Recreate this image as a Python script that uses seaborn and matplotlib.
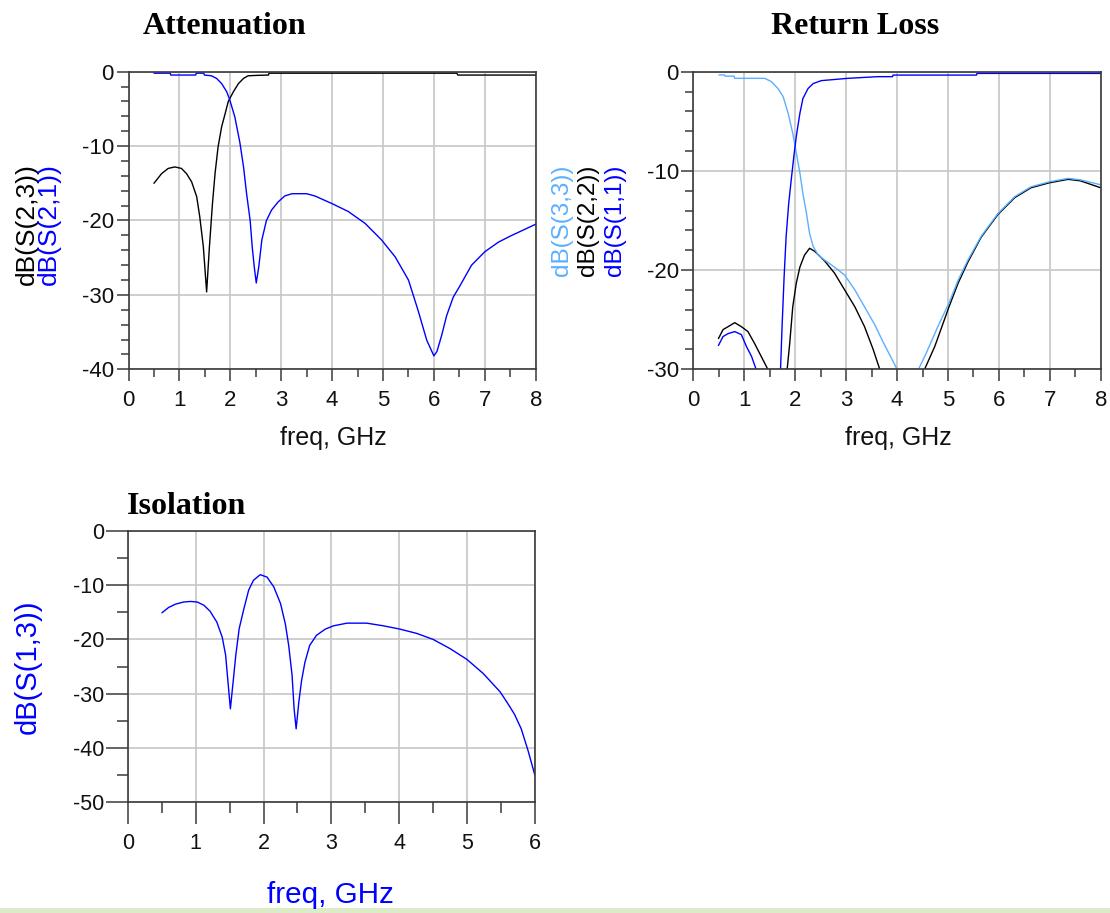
import matplotlib
matplotlib.use("Agg")
import matplotlib.pyplot as plt
import seaborn as sns
from matplotlib.ticker import MultipleLocator
from matplotlib.patches import Rectangle

# ---------------- data ----------------
# Attenuation
att_f_s23 = [0.50, 0.65, 0.78, 0.91, 1.04, 1.14, 1.24, 1.34, 1.40, 1.47, 1.535, 1.59, 1.65, 1.70,
             1.76, 1.83, 1.90, 1.96, 2.06, 2.16, 2.26, 2.35, 2.50, 2.75, 2.76, 6.45, 6.47, 8.0]
att_s23 = [-15.0, -13.7, -13.0, -12.8, -13.0, -13.7, -14.8, -16.8, -19.5, -23.5, -29.6, -23.5, -17.7, -13.7,
           -10.1, -7.4, -5.6, -4.0, -2.7, -1.6, -0.9, -0.55, -0.5, -0.45, -0.2, -0.2, -0.45, -0.45]

att_f_s21 = [0.50, 0.82, 0.83, 1.32, 1.33, 1.48, 1.49, 1.63, 1.73, 1.83, 1.93, 1.99, 2.09, 2.19, 2.26,
             2.32, 2.39, 2.43, 2.47, 2.51, 2.56, 2.62, 2.71, 2.81, 2.94, 3.07, 3.21, 3.50, 3.66, 3.99,
             4.32, 4.65, 4.97, 5.24, 5.50, 5.69, 5.86, 6.00, 6.06, 6.15, 6.25, 6.38, 6.51, 6.74, 7.00,
             7.27, 7.50, 7.75, 8.0]
att_s21 = [-0.2, -0.2, -0.45, -0.45, -0.2, -0.2, -0.45, -0.55, -0.9, -1.6, -2.7, -3.8, -6.1, -9.6, -12.8,
           -16.4, -20.0, -23.5, -26.2, -28.4, -26.2, -22.6, -20.0, -18.6, -17.5, -16.7, -16.4, -16.4, -16.7, -17.7,
           -18.8, -20.4, -22.6, -24.9, -28.0, -32.1, -36.1, -38.2, -37.6, -35.5, -32.8, -30.3, -28.8, -26.0, -24.2,
           -22.9, -22.1, -21.3, -20.5]

# Return loss
rl_f_s33 = [0.50, 0.61, 0.62, 0.80, 0.81, 1.40, 1.53, 1.66, 1.76, 1.86, 1.95, 2.02, 2.09, 2.15, 2.22,
            2.28, 2.35, 2.45, 2.58, 2.77, 2.97, 3.17, 3.36, 3.56, 3.72, 3.89, 4.00, 4.20, 4.42, 4.57,
            4.80, 5.02, 5.20, 5.39, 5.65, 5.98, 6.31, 6.63, 6.99, 7.36, 7.60, 8.0]
rl_s33 = [-0.33, -0.33, -0.45, -0.45, -0.67, -0.67, -1.0, -1.7, -2.5, -4.2, -6.2, -8.2, -10.2, -12.3, -14.3,
          -16.3, -17.6, -18.5, -19.0, -19.7, -20.5, -22.0, -23.7, -25.5, -27.2, -28.9, -30.0, -45.0, -30.0, -28.4,
          -25.7, -23.3, -21.0, -19.0, -16.6, -14.3, -12.6, -11.6, -11.1, -10.75, -10.9, -11.4]

rl_f_s22 = [0.49, 0.58, 0.68, 0.81, 0.94, 1.07, 1.20, 1.33, 1.46, 1.65, 1.84, 1.89, 1.95, 2.02, 2.09,
            2.18, 2.28, 2.38, 2.58, 2.77, 2.97, 3.17, 3.36, 3.53, 3.62, 3.66, 4.10, 4.54, 4.74, 5.02,
            5.20, 5.39, 5.65, 5.98, 6.31, 6.63, 6.99, 7.36, 7.60, 8.0]
rl_s22 = [-26.9, -26.0, -25.7, -25.3, -25.7, -26.2, -27.4, -28.7, -30.0, -45.0, -30.0, -27.4, -23.7, -21.3, -19.7,
          -18.5, -17.8, -18.1, -19.1, -20.3, -22.0, -23.7, -25.7, -28.0, -29.4, -30.0, -45.0, -30.0, -27.7, -23.7,
          -21.3, -19.2, -16.7, -14.4, -12.7, -11.7, -11.2, -10.85, -11.0, -11.7]

rl_f_s11 = [0.49, 0.58, 0.68, 0.81, 0.94, 1.04, 1.14, 1.23, 1.45, 1.71, 1.74, 1.78, 1.82, 1.87, 1.92,
            1.97, 2.02, 2.09, 2.15, 2.25, 2.35, 2.51, 3.03, 3.62, 3.91, 3.92, 5.56, 5.57, 8.0]
rl_s11 = [-27.6, -26.7, -26.4, -26.2, -26.5, -27.7, -28.7, -30.0, -45.0, -30.0, -25.7, -20.7, -16.6, -13.3, -10.9,
          -8.6, -6.5, -4.2, -2.7, -1.7, -1.2, -0.9, -0.67, -0.5, -0.5, -0.34, -0.34, -0.17, -0.17]

# Isolation
iso_f = [0.50, 0.60, 0.70, 0.82, 0.92, 1.02, 1.12, 1.21, 1.31, 1.39, 1.44, 1.47, 1.51, 1.55, 1.59,
         1.64, 1.71, 1.78, 1.85, 1.95, 2.05, 2.15, 2.25, 2.32, 2.37, 2.42, 2.45, 2.48, 2.52, 2.56,
         2.61, 2.68, 2.78, 2.91, 3.03, 3.23, 3.52, 3.77, 4.01, 4.26, 4.50, 4.75, 5.00, 5.24, 5.49,
         5.60, 5.70, 5.80, 5.90, 6.00]
iso_s13 = [-15.1, -14.1, -13.5, -13.1, -13.0, -13.1, -13.7, -14.8, -16.8, -19.6, -22.9, -27.2, -32.8, -27.9, -22.9,
           -18.0, -14.3, -10.9, -9.1, -8.06, -8.5, -10.3, -13.4, -17.1, -21.1, -26.6, -32.8, -36.5, -31.5, -27.6,
           -24.2, -21.1, -19.25, -18.1, -17.5, -17.0, -17.0, -17.5, -18.1, -18.9, -20.0, -21.7, -23.7, -26.3, -29.7,
           -31.8, -33.8, -36.5, -40.5, -45.0]

titles = ["Attenuation", "Return Loss", "Isolation"]
xlabel_text = "freq, GHz"

BLUE = "#0000ff"
LIGHT = "#5ab0ff"
BLACK = "#000000"

# ---------------- figure ----------------
sns.set_theme(style="white")
plt.rcParams['font.family'] = ['Liberation Sans', 'DejaVu Sans']
plt.rcParams['axes.unicode_minus'] = False
plt.rcParams['text.color'] = 'black'

W, H = 1110, 913
fig = plt.figure(figsize=(W / 100, H / 100), dpi=100)
fig.patch.set_facecolor("white")


def fx(px):
    return px / W


def fy(py):
    return 1 - py / H


def ax_at(l, t, r, b):
    return fig.add_axes([l / W, 1 - b / H, (r - l) / W, (b - t) / H])


def style(ax, xmax, ymin, yminor, majlen, minlen, fs, xpad, ypad):
    ax.set_xlim(0, xmax)
    ax.set_ylim(ymin, 0)
    ax.xaxis.set_major_locator(MultipleLocator(1))
    ax.xaxis.set_minor_locator(MultipleLocator(0.5))
    ax.yaxis.set_major_locator(MultipleLocator(10))
    ax.yaxis.set_minor_locator(MultipleLocator(yminor))
    ax.grid(True, which='major', color='#c6c6c6', linewidth=1.2)
    ax.grid(False, which='minor')
    ax.set_axisbelow(True)
    for s in ax.spines.values():
        s.set_color('#3a3a3a')
        s.set_linewidth(1.2)
    ax.tick_params(which='both', bottom=True, left=True, top=False, right=False)
    ax.tick_params(which='major', direction='out', length=majlen, width=1.1, color='#3a3a3a',
                   labelsize=fs, labelcolor='#111111')
    ax.tick_params(which='minor', direction='out', length=minlen, width=1.1, color='#3a3a3a')
    ax.tick_params(axis='x', which='major', pad=xpad)
    ax.tick_params(axis='y', which='major', pad=ypad)
    ax.set_xlabel("")
    ax.set_ylabel("")


LW = 1.0

# ---- Attenuation ----
ax1 = ax_at(128.5, 71.7, 535.7, 369.3)
sns.lineplot(x=att_f_s23, y=att_s23, ax=ax1, color=BLACK, linewidth=LW, sort=False, estimator=None)
sns.lineplot(x=att_f_s21, y=att_s21, ax=ax1, color=BLUE, linewidth=LW, sort=False, estimator=None)
style(ax1, 8, -40, 2, 8.6, 6.0, 16, 6.3, 2)

# ---- Return Loss ----
ax2 = ax_at(693.5, 71.7, 1100.7, 369.3)
sns.lineplot(x=rl_f_s22, y=rl_s22, ax=ax2, color=BLACK, linewidth=LW, sort=False, estimator=None)
sns.lineplot(x=rl_f_s33, y=rl_s33, ax=ax2, color=LIGHT, linewidth=LW, sort=False, estimator=None)
sns.lineplot(x=rl_f_s11, y=rl_s11, ax=ax2, color=BLUE, linewidth=LW, sort=False, estimator=None)
style(ax2, 8, -30, 2, 8.6, 6.0, 16, 6.3, 2)

# ---- Isolation ----
ax3 = ax_at(128.0, 531.0, 534.8, 802.0)
sns.lineplot(x=iso_f, y=iso_s13, ax=ax3, color=BLUE, linewidth=LW, sort=False, estimator=None)
style(ax3, 6, -50, 5, 15.5, 8.0, 15.5, 7.0, 1.5)

# ---- titles ----
serif = ['Liberation Serif', 'DejaVu Serif']
fig.text(fx(225), fy(34.5), titles[0], ha='center', va='baseline', fontsize=23,
         fontweight='bold', family=serif, color='black')
fig.text(fx(855), fy(34.5), titles[1], ha='center', va='baseline', fontsize=23,
         fontweight='bold', family=serif, color='black')
fig.text(fx(186.5), fy(514.3), titles[2], ha='center', va='baseline', fontsize=23,
         fontweight='bold', family=serif, color='black')

# ---- x labels ----
fig.text(fx(333), fy(445), xlabel_text, ha='center', va='baseline', fontsize=18, color='#111111')
fig.text(fx(898), fy(445), xlabel_text, ha='center', va='baseline', fontsize=18, color='#111111')
fig.text(fx(330), fy(903), xlabel_text, ha='center', va='baseline', fontsize=21.3, color=BLUE)

# ---- y labels ----
fig.text(fx(27), fy(224.5), "dB(S(2,3))", rotation=90, ha='center', va='center', fontsize=19, color=BLACK)
fig.text(fx(49), fy(224.5), "dB(S(2,1))", rotation=90, ha='center', va='center', fontsize=19, color=BLUE)

fig.text(fx(562.5), fy(220), "dB(S(3,3))", rotation=90, ha='center', va='center', fontsize=17.5, color=LIGHT)
fig.text(fx(587.5), fy(220), "dB(S(2,2))", rotation=90, ha='center', va='center', fontsize=17.5, color=BLACK)
fig.text(fx(615), fy(220), "dB(S(1,1))", rotation=90, ha='center', va='center', fontsize=17.5, color=BLUE)

fig.text(fx(27.5), fy(666.5), "dB(S(1,3))", rotation=90, ha='center', va='center', fontsize=21, color=BLUE)

# ---- bottom strip ----
fig.patches.append(Rectangle((0, 0), 1, 5.5 / H, transform=fig.transFigure,
                             facecolor='#dcebc8', edgecolor='none', zorder=0))

fig.savefig("out.png", dpi=100, facecolor="white")
